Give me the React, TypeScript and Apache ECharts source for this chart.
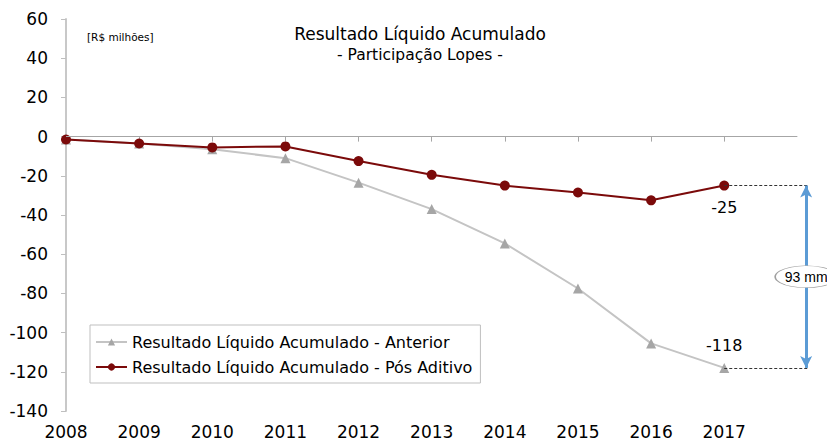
import React, { useEffect, useRef } from "react";
import * as echarts from "echarts";

const years = [2008, 2009, 2010, 2011, 2012, 2013, 2014, 2015, 2016, 2017];
const anterior = [-1.5, -3.5, -6.5, -11, -23.5, -37, -54.5, -77.5, -105.5, -118];
const posAditivo = [-1.5, -3.5, -5.5, -5, -12.5, -19.5, -25, -28.5, -32.5, -25];
const yTicks = { min: -140, max: 60, interval: 20 };
const seriesNames = [
  "Resultado Líquido Acumulado - Anterior",
  "Resultado Líquido Acumulado - Pós Aditivo",
];
const titleText = "Resultado Líquido Acumulado";
const subtitleText = "- Participação Lopes -";
const unitText = "[R$ milhões]";

const FONT = "DejaVu Sans";

export default function App() {
  const ref = useRef<HTMLDivElement>(null);
  useEffect(() => {
    if (!ref.current) return;
    const chart = echarts.init(ref.current, null, { renderer: "svg" });
    const last = years.length - 1;
    const lastYear = years[last];
    const endA = anterior[last];
    const endP = posAditivo[last];
    const diff = Math.round(endP - endA);
    const arrowX = lastYear + 1.12;
    const dashEnd = lastYear + 1.15;

    const mkData = (arr: number[], pos: "top" | "bottom") =>
      arr.map((v, i) =>
        i === last
          ? {
              value: [years[i], v],
              label: {
                show: true,
                position: pos,
                distance: 9,
                formatter: String(Math.round(v)),
                color: "#000",
                fontSize: 16,
                fontFamily: FONT,
              },
            }
          : [years[i], v]
      );

    const txt = (text: string, x: number, y: number, size: number, align: string) => ({
      type: "text",
      x,
      y,
      style: {
        text,
        fontSize: size,
        fontFamily: FONT,
        fill: "#000",
        align,
        verticalAlign: "middle",
        textAlign: align,
        textVerticalAlign: "middle",
      },
    });

    chart.setOption({
      animation: false,
      textStyle: { fontFamily: FONT },
      grid: { left: 66, right: 15, top: 19, bottom: 31, containLabel: false },
      graphic: [
        txt(titleText, 420, 34, 17, "center"),
        txt(subtitleText, 420, 55, 15.5, "center"),
        txt(unitText, 87, 37, 10.5, "left"),
      ],
      legend: {
        orient: "vertical",
        left: 90,
        top: 325,
        padding: [8, 8, 7, 5],
        itemGap: 7,
        itemWidth: 31,
        itemHeight: 9,
        borderColor: "#BFBFBF",
        borderWidth: 1,
        backgroundColor: "#fff",
        textStyle: { fontSize: 16, color: "#000", fontFamily: FONT, lineHeight: 18 },
        data: seriesNames,
      },
      xAxis: [
        {
          type: "value",
          position: "top",
          min: years[0],
          max: lastYear + 1.2,
          interval: 1,
          axisLine: { show: true, onZero: true, lineStyle: { color: "rgba(0,0,0,0)" } },
          axisTick: {
            show: true,
            inside: true,
            length: 5,
            lineStyle: { color: "#A6A6A6", width: 1 },
            customValues: years.slice(1),
          },
          axisLabel: { show: false },
          splitLine: { show: false },
        },
        {
          type: "value",
          position: "bottom",
          min: years[0],
          max: lastYear + 1.2,
          interval: 1,
          axisLine: { show: false, onZero: false },
          axisTick: { show: false },
          axisLabel: {
            show: true,
            margin: 12,
            fontSize: 17,
            color: "#000",
            fontFamily: FONT,
            customValues: years,
            formatter: (v: number) => String(v),
          },
          splitLine: { show: false },
        },
      ],
      yAxis: {
        type: "value",
        min: yTicks.min,
        max: yTicks.max,
        interval: yTicks.interval,
        axisLine: { show: true, lineStyle: { color: "#C8C8C8", width: 2 } },
        axisTick: { show: true, length: 5, lineStyle: { color: "#BFBFBF" } },
        axisLabel: { fontSize: 17, color: "#000", margin: 18, fontFamily: FONT },
        splitLine: { show: false },
      },
      series: [
        {
          name: seriesNames[0],
          type: "line",
          xAxisIndex: 0,
          data: mkData(anterior, "top"),
          symbol: "triangle",
          symbolSize: 10,
          showAllSymbol: true,
          clip: false,
          lineStyle: { color: "#C4C4C4", width: 2 },
          itemStyle: { color: "#A6A6A6" },
          z: 2,
        },
        {
          name: seriesNames[1],
          type: "line",
          xAxisIndex: 0,
          data: mkData(posAditivo, "bottom"),
          symbol: "circle",
          symbolSize: 10,
          clip: false,
          lineStyle: { color: "#7B0A0A", width: 2 },
          itemStyle: { color: "#7B0A0A" },
          z: 3,
          markLine: {
            silent: true,
            symbol: "none",
            label: { show: false },
            data: [
              [
                { coord: [years[0], 0], lineStyle: { color: "#A6A6A6", width: 1, type: "solid" } },
                { coord: [lastYear + 1, 0] },
              ],
              [
                { coord: [lastYear, endP], lineStyle: { color: "#333", width: 1, type: [3, 2] } },
                { coord: [dashEnd, endP] },
              ],
              [
                { coord: [lastYear, endA], lineStyle: { color: "#333", width: 1, type: [3, 2] } },
                { coord: [dashEnd, endA] },
              ],
              [
                {
                  coord: [arrowX, endP],
                  symbol: "arrow",
                  symbolSize: [9, 12],
                  lineStyle: { color: "#5B9BD5", width: 3, type: "solid" },
                  itemStyle: { color: "#5B9BD5" },
                },
                { coord: [arrowX, endA], symbol: "arrow", symbolSize: [9, 12] },
              ],
            ],
          },
          markPoint: {
            silent: true,
            data: [
              {
                coord: [arrowX, (endP + endA) / 2],
                symbol: "circle",
                symbolSize: [62, 22],
                itemStyle: { color: "#fff", borderColor: "#A0A0A0", borderWidth: 1 },
                label: {
                  show: true,
                  position: "inside",
                  formatter: `${diff} mm`,
                  color: "#000",
                  fontSize: 14,
                  fontWeight: "normal",
                  fontFamily: "Liberation Sans",
                },
              },
            ],
          },
        },
      ],
    });
    return () => chart.dispose();
  }, []);
  return <div ref={ref} style={{ width: 827, height: 442, position: "absolute", left: 0, top: 0 }} />;
}
